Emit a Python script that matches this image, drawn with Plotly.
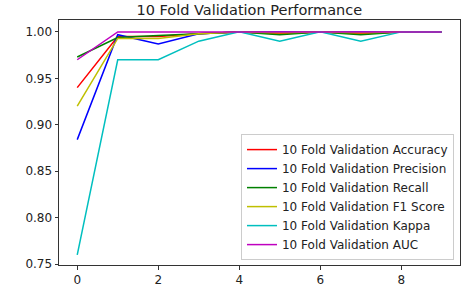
import plotly.graph_objects as go

folds = list(range(10))
accuracy = [0.940, 0.995, 0.995, 0.998, 1.000, 0.998, 1.000, 0.998, 1.000, 1.000]
precision = [0.884, 0.997, 0.987, 0.998, 1.000, 1.000, 1.000, 1.000, 1.000, 1.000]
recall = [0.973, 0.994, 0.996, 0.998, 1.000, 0.997, 1.000, 0.997, 1.000, 1.000]
f1_score = [0.920, 0.993, 0.993, 0.998, 1.000, 0.999, 1.000, 0.999, 1.000, 1.000]
kappa = [0.760, 0.970, 0.970, 0.990, 1.000, 0.990, 1.000, 0.990, 1.000, 1.000]
auc = [0.970, 1.000, 1.000, 1.000, 1.000, 1.000, 1.000, 1.000, 1.000, 1.000]

series = [
    ("10 Fold Validation Accuracy", accuracy, "#ff0000"),
    ("10 Fold Validation Precision", precision, "#0000ff"),
    ("10 Fold Validation Recall", recall, "#008000"),
    ("10 Fold Validation F1 Score", f1_score, "#bfbf00"),
    ("10 Fold Validation Kappa", kappa, "#00bfbf"),
    ("10 Fold Validation AUC", auc, "#bf00bf"),
]

fig = go.Figure()
for name, vals, col in series:
    fig.add_trace(go.Scatter(x=folds, y=vals, mode="lines", name=name,
                             line=dict(color=col, width=1.5)))

axis_common = dict(showgrid=False, zeroline=False, showline=True, linecolor="#333333",
                   linewidth=1, mirror=True, ticks="outside", ticklen=3.5,
                   tickcolor="#333333", tickfont=dict(size=12, color="#222222"))

fig.update_layout(
    width=466, height=292,
    margin=dict(l=59, r=5, t=20, b=24),
    paper_bgcolor="white", plot_bgcolor="white",
    font=dict(family="DejaVu Sans", color="#222222"),
    title=dict(text="10 Fold Validation Performance", x=0.535, xanchor="center",
               y=0.967, yanchor="middle", font=dict(size=14.5)),
    xaxis=dict(range=[-0.45, 9.45], tickvals=[0, 2, 4, 6, 8], **axis_common),
    yaxis=dict(range=[0.749, 1.0128], tickvals=[0.75, 0.80, 0.85, 0.90, 0.95, 1.00],
               tickformat=".2f", **axis_common),
    legend=dict(x=0.985, y=0.02, xanchor="right", yanchor="bottom",
                bgcolor="rgba(255,255,255,0.8)", bordercolor="#cccccc", borderwidth=1,
                font=dict(size=12), tracegroupgap=0, itemwidth=30),
)

fig.write_html("out.html", config={"displayModeBar": False},
               post_script="document.body.style.margin='0';document.body.style.overflow='hidden';")
